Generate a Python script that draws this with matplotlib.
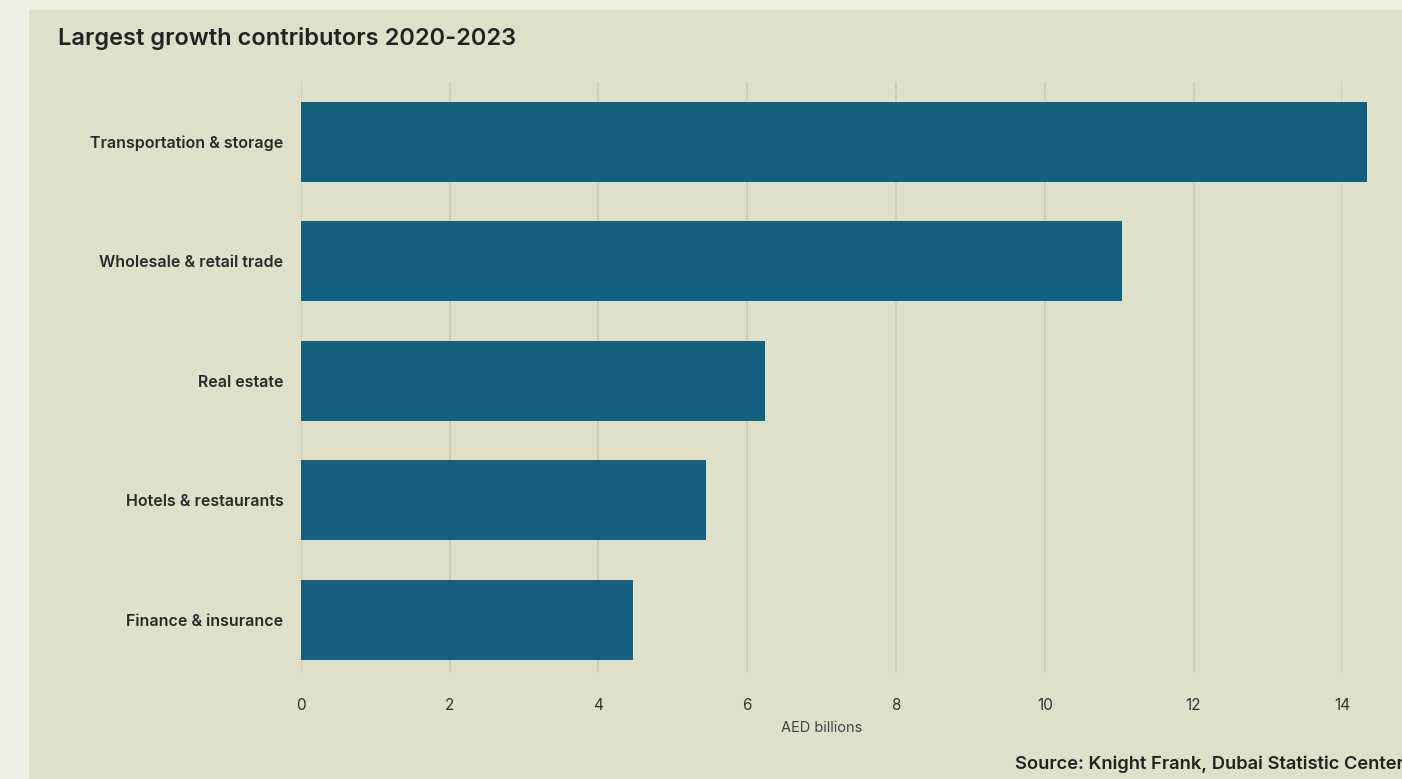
import matplotlib
matplotlib.use("Agg")
import matplotlib.pyplot as plt
from matplotlib.patches import Rectangle

categories = ["Transportation & storage", "Wholesale & retail trade", "Real estate",
              "Hotels & restaurants", "Finance & insurance"]
values = [14.33, 11.04, 6.24, 5.45, 4.47]
xticks = [0, 2, 4, 6, 8, 10, 12, 14]

FONT = ["Inter", "DejaVu Sans"]
plt.rcParams["font.family"] = FONT

fig = plt.figure(figsize=(14.02, 7.79), dpi=100)
fig.patch.set_facecolor("#eeeee2")
panel = Rectangle((28.5 / 1402, 0), 1, (779 - 10) / 779, transform=fig.transFigure,
                  facecolor="#dfe0ca", edgecolor="none", zorder=-10)
fig.patches.append(panel)

ax = fig.add_axes([300.7 / 1402, 1 - 673 / 779, (1342.3 - 300.7) / 1402, (673 - 82) / 779])
ax.set_zorder(2)
ax.set_facecolor("none")
ypos = list(range(len(categories)))
ax.barh(ypos, values, height=0.67, color="#13617f", zorder=3, clip_on=False)
ax.set_xlim(0, 14)
ax.set_ylim(4.448, -0.502)
ax.set_xticks(xticks)
ax.set_xticklabels([str(t) for t in xticks], fontsize=11, color="#333333")
ax.set_yticks(ypos)
ax.set_yticklabels(categories, fontsize=11.5, fontweight="semibold", color="#2a2a2a")
ax.tick_params(axis="x", length=0, pad=18)
ax.tick_params(axis="y", length=0, pad=12.5)
ax.grid(axis="x", color="#c9cab6", linewidth=1.1, zorder=1)
ax.grid(axis="y", visible=False)
for s in ax.spines.values():
    s.set_visible(False)
ax.set_xlabel("AED billions", fontsize=10.5, color="#444444", labelpad=6)

fig.text(58 / 1402, 1 - 38 / 779, "Largest growth contributors 2020-2023", fontsize=17,
         fontweight="semibold", color="#222222", va="center", ha="left")
fig.text(1015 / 1402, 1 - 764 / 779, "Source: Knight Frank, Dubai Statistic Center", fontsize=13.2,
         fontweight="semibold", color="#222222", va="center", ha="left")

fig.savefig("out.png", dpi=100, facecolor=fig.get_facecolor())
